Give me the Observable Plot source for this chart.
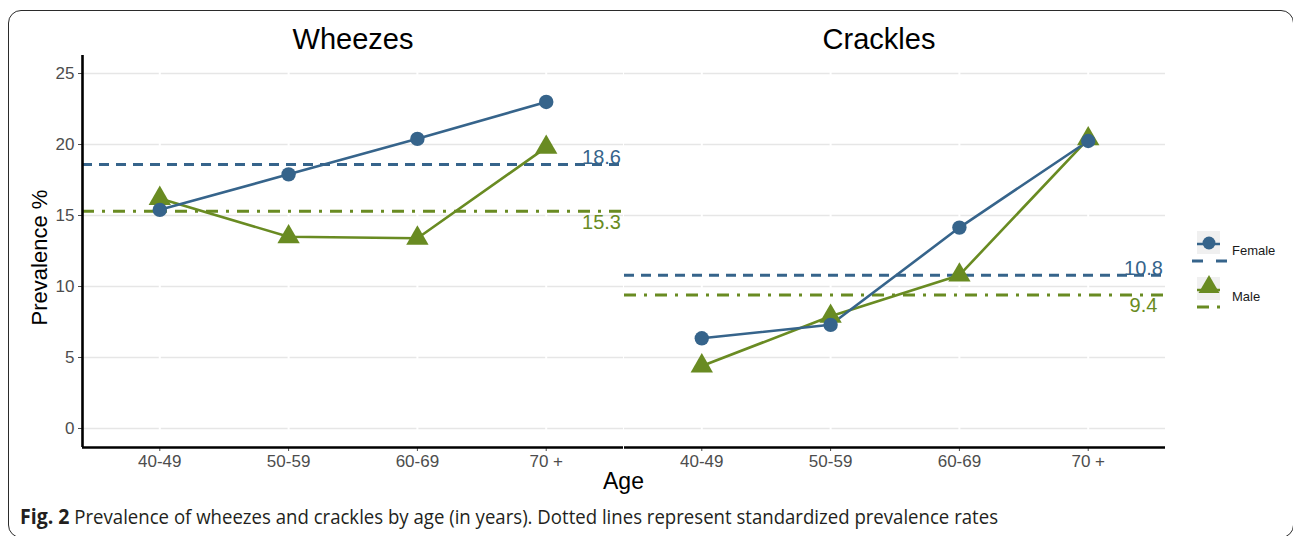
<!DOCTYPE html>
<html>
<head>
<meta charset="utf-8">
<script src="https://cdn.jsdelivr.net/npm/d3@7"></script>
<script src="https://cdn.jsdelivr.net/npm/@observablehq/plot@0.6"></script>
<style>
  html, body { margin: 0; padding: 0; background: #fff; overflow: hidden; }
  #page { position: relative; width: 1293px; height: 536px; }
  #border { position: absolute; left: 8px; top: 10px; width: 1286px; height: 528px;
            box-sizing: border-box; border: 1.5px solid #2b2b2b; border-radius: 13px; }
  #chart { position: absolute; left: 0; top: 0; }
  #chart svg, #chart svg text, #legend text { font-family: "Liberation Sans", Arial, Helvetica, sans-serif !important; }
  #legend { position: absolute; left: 1185px; top: 225px; }
  #caption { position: absolute; left: 0; top: 495px; }
</style>
</head>
<body>
<div id="page">
  <div id="border"></div>
  <div id="chart"></div>
  <svg id="legend" width="100" height="95"></svg>
  <svg id="caption" width="1293" height="41"></svg>
</div>
<script>
// ---- data ----
const ages = ["40-49", "50-59", "60-69", "70 +"];
const panels = ["Wheezes", "Crackles"];
const sexes = ["Female", "Male"];
const wheezesFemale = [15.4, 17.9, 20.4, 23.0];
const wheezesMale = [16.2, 13.5, 13.4, 19.8];
const cracklesFemale = [6.35, 7.3, 14.15, 20.25];
const cracklesMale = [4.4, 7.9, 10.8, 20.4];
const standardizedFemale = [18.6, 10.8]; // Wheezes, Crackles
const standardizedMale = [15.3, 9.4];
const yTicks = [0, 5, 10, 15, 20, 25];
const sexColors = ["#36648B", "#698B22"];
const sexSymbols = ["circle", "triangle"];
const captionBold = "Fig. 2";
const captionText = " Prevalence of wheezes and crackles by age (in years). Dotted lines represent standardized prevalence rates";

// ---- tables ----
const series = [
  ["Wheezes", "Female", wheezesFemale],
  ["Wheezes", "Male", wheezesMale],
  ["Crackles", "Female", cracklesFemale],
  ["Crackles", "Male", cracklesMale]
];
const rows = series.flatMap(([panel, sex, vals]) =>
  vals.map((value, i) => ({panel, sex, age: ages[i], idx: i + 1, value})));
const stdRows = panels.flatMap((panel, p) => [
  {panel, sex: "Female", value: standardizedFemale[p]},
  {panel, sex: "Male", value: standardizedMale[p]}
]);
const female = d => d.sex === "Female";
const male = d => d.sex === "Male";

const font = "Liberation Sans, Arial, Helvetica, sans-serif";

const chart = Plot.plot({
  width: 1293,
  height: 500,
  marginLeft: 81,
  marginRight: 128,
  marginTop: 55,
  marginBottom: 53,
  style: {fontFamily: font, background: "transparent", overflow: "visible"},
  fx: {domain: panels, padding: 0.002, axis: null, label: null},
  x: {type: "linear", domain: [0.4, 4.6], label: null},
  y: {domain: [-1.34, 26.27], label: null},
  color: {domain: sexes, range: sexColors},
  symbol: {domain: sexes, range: sexSymbols},
  marks: [
    Plot.gridY(yTicks, {stroke: "#e6e6e6", strokeOpacity: 1, strokeWidth: 1.4}),
    Plot.gridX([1, 2, 3, 4], {stroke: "#ffffff", strokeOpacity: 1, strokeWidth: 2}),
    Plot.axisY({ticks: yTicks, tickSize: 4, tickPadding: 4, fontSize: 17, color: "#4d4d4d", label: null}),
    Plot.axisX({ticks: [1, 2, 3, 4], tickFormat: i => ages[i - 1], tickSize: 4, tickPadding: 3, fontSize: 17, color: "#4d4d4d", label: null}),
    // standardized reference lines
    Plot.ruleY(stdRows.filter(female), {fx: "panel", y: "value", stroke: "sex", strokeWidth: 3, strokeDasharray: "10,7"}),
    Plot.ruleY(stdRows.filter(male), {fx: "panel", y: "value", stroke: "sex", strokeWidth: 3, strokeDasharray: "12,8,3,8"}),
    Plot.text(stdRows.filter(female), {fx: "panel", y: "value", text: d => d.value.toFixed(1), fill: "sex", frameAnchor: "right", dx: -22, dy: -7, fontSize: 20, textAnchor: "middle"}),
    Plot.text(stdRows.filter(male), {fx: "panel", y: "value", text: d => d.value.toFixed(1), fill: "sex", frameAnchor: "right", dx: -22, dy: 11, fontSize: 20, textAnchor: "middle"}),
    // series
    Plot.line(rows.filter(male), {fx: "panel", x: "idx", y: "value", stroke: "sex", strokeWidth: 2.6}),
    Plot.line(rows.filter(female), {fx: "panel", x: "idx", y: "value", stroke: "sex", strokeWidth: 2.6}),
    Plot.dot(rows.filter(male), {fx: "panel", x: "idx", y: "value", fill: "sex", symbol: "sex", r: 8.3, stroke: "none"}),
    Plot.dot(rows.filter(female), {fx: "panel", x: "idx", y: "value", fill: "sex", symbol: "sex", r: 7.2, stroke: "none"}),
    // axis lines
    Plot.ruleY([-1.34], {stroke: "#000", strokeWidth: 2.6}),
    Plot.ruleX([panels[0]], {fx: d => d, x: () => 0.4, stroke: "#000", strokeWidth: 2.6}),
    // facet titles
    Plot.text([panels[0]], {fx: d => d, text: d => d, frameAnchor: "top", lineAnchor: "middle", dy: -16, fontSize: 29, fill: "#000"}),
    Plot.text([panels[1]], {fx: d => d, text: d => d, frameAnchor: "top", lineAnchor: "middle", dy: -16, dx: -16, fontSize: 29, fill: "#000"}),
    // axis titles
    Plot.text(["Prevalence %"], {fx: () => panels[0], text: d => d, frameAnchor: "left", textAnchor: "middle", lineAnchor: "middle", rotate: -90, dx: -43, dy: 6, fontSize: 22, fill: "#000"}),
    Plot.text(["Age"], {fx: () => panels[0], text: d => d, frameAnchor: "bottom-right", lineAnchor: "middle", textAnchor: "middle", dy: 34, fontSize: 23, fill: "#000"})
  ]
});
document.getElementById("chart").appendChild(chart);

// ---- legend ----
const lg = d3.select("#legend");
const dashes = ["11,13", "12,8,3,8"];
sexes.forEach((sex, i) => {
  const oy = i * 46;
  const g = lg.append("g").attr("transform", `translate(0,${oy})`);
  g.append("rect").attr("x", 12).attr("y", 6).attr("width", 23).attr("height", 23).attr("fill", "#f0f0f0");
  g.append("line").attr("x1", 12).attr("x2", 35).attr("y1", 19).attr("y2", 19)
    .attr("stroke", sexColors[i]).attr("stroke-width", 2.5);
  g.append("path").attr("d", d3.symbol(sexSymbols[i] === "circle" ? d3.symbolCircle : d3.symbolTriangle, i === 0 ? 130 : 190)())
    .attr("transform", `translate(24,${i === 0 ? 18 : 16})`).attr("fill", sexColors[i]);
  g.append("line").attr("x1", i === 0 ? 7 : 12).attr("x2", 42).attr("y1", 36).attr("y2", 36)
    .attr("stroke", sexColors[i]).attr("stroke-width", 3).attr("stroke-dasharray", dashes[i]);
  g.append("text").attr("x", 47).attr("y", 27).attr("dominant-baseline", "middle")
    .attr("font-size", 13).attr("fill", "#1a1a1a").text(sex);
});

// ---- caption ----
const cap = d3.select("#caption").append("text")
  .attr("x", 20).attr("y", 29)
  .attr("font-family", "'Open Sans', 'Noto Sans', sans-serif").attr("font-size", 20).attr("fill", "#231f20")
  .attr("textLength", 978).attr("lengthAdjust", "spacingAndGlyphs");
cap.append("tspan").attr("font-weight", "bold").attr("font-size", 21).text(captionBold);
cap.append("tspan").text(captionText);
</script>
</body>
</html>
